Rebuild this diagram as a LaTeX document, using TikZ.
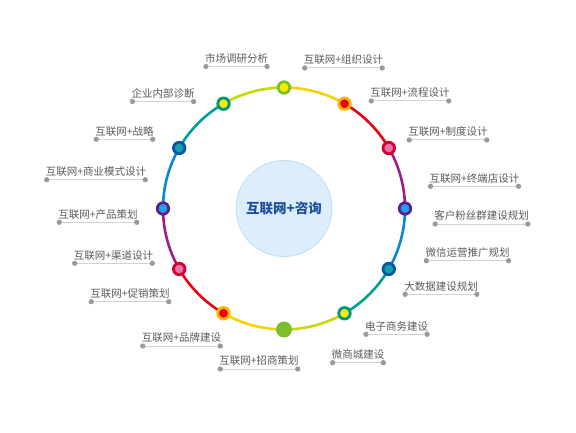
\documentclass[tikz,border=0pt]{standalone}
\usepackage{fontspec}
\newfontfamily\cjk{Noto Sans CJK SC}
\usetikzlibrary{arrows.meta,backgrounds}

\definecolor{ringgreen}{HTML}{7CBF2A}
\definecolor{dotyellow}{HTML}{FFEB00}
\definecolor{ringorange}{HTML}{F7B500}
\definecolor{dotred}{HTML}{E60012}
\definecolor{ringred}{HTML}{D6002A}
\definecolor{dotpink}{HTML}{E374AE}
\definecolor{ringpurple}{HTML}{5E1F86}
\definecolor{dotblue}{HTML}{1AA3E8}
\definecolor{ringblue}{HTML}{0E55A4}
\definecolor{dotteal}{HTML}{0FA3A8}
\definecolor{ringteal}{HTML}{00947E}
\definecolor{segyellow}{HTML}{F5D300}
\definecolor{segred}{HTML}{E60012}
\definecolor{segpurple}{HTML}{9B1E8C}
\definecolor{segblue}{HTML}{0B86CF}
\definecolor{segteal}{HTML}{00A097}
\definecolor{seglime}{HTML}{C9D800}
\definecolor{hubfill}{HTML}{DCEEFC}
\definecolor{hubline}{HTML}{BCDDF5}
\definecolor{hubtext}{HTML}{1C4F9E}
\definecolor{itemtext}{HTML}{5A5A5A}
\definecolor{rulegray}{HTML}{D2D2D2}
\definecolor{tipgray}{HTML}{9A9A9A}

\begin{document}
\begin{tikzpicture}[x=1pt, y=1pt,
    hub/.style={circle, draw=hubline, fill=hubfill, line width=0.8pt, minimum size=96pt, inner sep=0pt, text=hubtext, font=\cjk\bfseries\fontsize{13.5}{16}\selectfont},
    marker/.style 2 args={circle, draw=#1, fill=#2, line width=2.8pt, minimum size=11.5pt, inner sep=0pt},
    full marker/.style={circle, fill=#1, minimum size=16pt, inner sep=0pt},
    segment/.style={draw=#1, line width=2.6pt},
    item/.style={anchor=south, inner xsep=1.5pt, inner ysep=3pt, text=itemtext, font=\cjk\fontsize{10.5}{12}\selectfont},
    rule/.style={draw=rulegray, line width=1pt, {Circle[length=5.2pt,color=tipgray]}-{Circle[length=5.2pt,color=tipgray]}}
]
\useasboundingbox (0,0) rectangle (576,432);

% Centre
\node[hub] (hub) at (284,223.5) {互联网+咨询};

% Ring markers
\node[marker={ringgreen}{dotyellow}] (p1) at ([shift={(90:121)}]hub.center) {};
\node[marker={ringorange}{dotred}] (p2) at ([shift={(60:121)}]hub.center) {};
\node[marker={ringred}{dotpink}] (p3) at ([shift={(30:121)}]hub.center) {};
\node[marker={ringpurple}{dotblue}] (p4) at ([shift={(0:121)}]hub.center) {};
\node[marker={ringblue}{dotteal}] (p5) at ([shift={(-30:121)}]hub.center) {};
\node[marker={ringteal}{dotyellow}] (p6) at ([shift={(-60:121)}]hub.center) {};
\node[full marker=ringgreen] (p7) at ([shift={(-90:121)}]hub.center) {};
\node[marker={ringorange}{dotred}] (p8) at ([shift={(-120:121)}]hub.center) {};
\node[marker={ringred}{dotpink}] (p9) at ([shift={(-150:121)}]hub.center) {};
\node[marker={ringpurple}{dotblue}] (p10) at ([shift={(180:121)}]hub.center) {};
\node[marker={ringblue}{dotteal}] (p11) at ([shift={(150:121)}]hub.center) {};
\node[marker={ringteal}{dotyellow}] (p12) at ([shift={(120:121)}]hub.center) {};

% Ring segments
\begin{scope}[on background layer]
\draw[segment=segyellow] (p1.center) arc[start angle=90, end angle=60, radius=121];
\draw[segment=segred] (p2.center) arc[start angle=60, end angle=30, radius=121];
\draw[segment=segpurple] (p3.center) arc[start angle=30, end angle=0, radius=121];
\draw[segment=segblue] (p4.center) arc[start angle=0, end angle=-30, radius=121];
\draw[segment=segteal] (p5.center) arc[start angle=-30, end angle=-60, radius=121];
\draw[segment=seglime] (p6.center) arc[start angle=-60, end angle=-90, radius=121];
\draw[segment=segyellow] (p7.center) arc[start angle=-90, end angle=-120, radius=121];
\draw[segment=segred] (p8.center) arc[start angle=-120, end angle=-150, radius=121];
\draw[segment=segpurple] (p9.center) arc[start angle=-150, end angle=-180, radius=121];
\draw[segment=segblue] (p10.center) arc[start angle=180, end angle=150, radius=121];
\draw[segment=segteal] (p11.center) arc[start angle=150, end angle=120, radius=121];
\draw[segment=seglime] (p12.center) arc[start angle=120, end angle=90, radius=121];
\end{scope}

% Items, left side
\node[item] (l1) at (236.5,365.5) {市场调研分析};
\node[item] (l2) at (163,330.5) {企业内部诊断};
\node[item] (l3) at (124.5,292.7) {互联网+战略};
\node[item] (l4) at (96,252.3) {互联网+商业模式设计};
\node[item] (l5) at (98,209.7) {互联网+产品策划};
\node[item] (l6) at (113.5,168.7) {互联网+渠道设计};
\node[item] (l7) at (130,130.3) {互联网+促销策划};
\node[item] (l8) at (181.5,86) {互联网+品牌建设};
\node[item] (l9) at (259,63) {互联网+招商策划};

% Items, right side
\node[item] (l10) at (343.5,364) {互联网+组织设计};
\node[item] (l11) at (410,331) {互联网+流程设计};
\node[item] (l12) at (448,292) {互联网+制度设计};
\node[item] (l13) at (474.5,245.7) {互联网+终端店设计};
\node[item] (l14) at (481.5,208) {客户粉丝群建设规划};
\node[item] (l15) at (467.5,171.3) {微信运营推广规划};
\node[item] (l16) at (441,137.7) {大数据建设规划};
\node[item] (l17) at (396.5,97.7) {电子商务建设};
\node[item] (l18) at (358,69.3) {微商城建设};

% Underlines
\foreach \i in {1,...,18}
    \draw[rule] (l\i.south west) -- (l\i.south east);

\end{tikzpicture}
\end{document}
